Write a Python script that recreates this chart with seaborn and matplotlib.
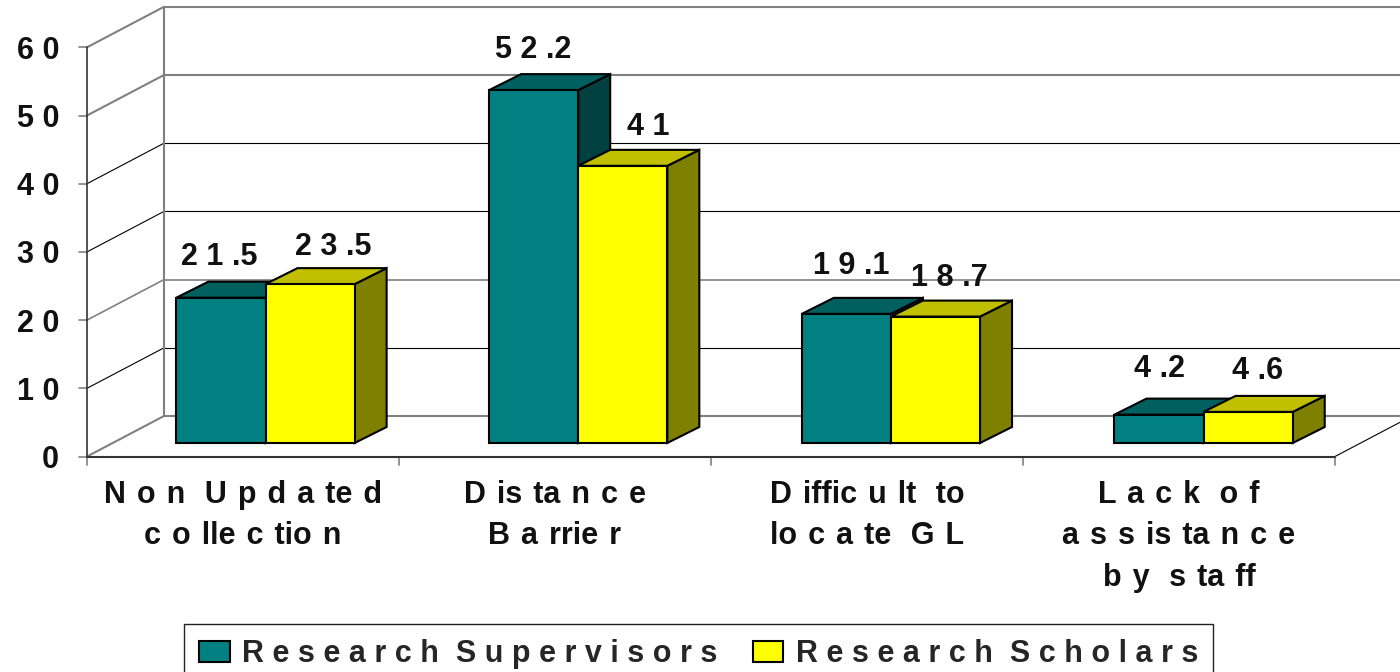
import pandas as pd
import seaborn as sns
import matplotlib.pyplot as plt
from matplotlib.patches import Patch, Polygon

categories = ["Non Updated\ncollection", "Distance\nBarrier", "Difficult to\nlocate GL", "Lack of\nassistance\nby staff"]
supervisors = [21.5, 52.2, 19.1, 4.2]
scholars = [23.5, 41, 18.7, 4.6]
series_names = ["Research Supervisors", "Research Scholars"]
y_ticks = [0, 10, 20, 30, 40, 50, 60]

FRONT = "#008080", "#FFFF00"
TOPS = "#006060", "#C0C000"
SIDES = "#004040", "#808000"
GREY = "#808080"
INK = "#111111"
# wall lines come out in two weights in the picture
wall_colors = [GREY, "black", GREY, "black", "black", GREY, GREY]
wall_widths = [1.5, 0.8, 1.2, 0.8, 0.8, 1.5, 1.5]

W, H = 1400, 672
X_UNIT = 312.7   # px per category
Y_UNIT = 6.76    # px per value unit
WALL_SCALE = 6.82 / Y_UNIT  # axis ticks are spaced a touch wider than the bars
X_ZERO = 265.5   # px of first group centre
Y_ZERO = 443     # px of bar base

# depth of the fake 3d, in data units
BAR_DX = 32 / X_UNIT
BAR_DY = 16 / Y_UNIT
AXIS_DROP = (Y_ZERO - 456.5) / Y_UNIT
WALL_RISE = (Y_ZERO - 416) / Y_UNIT
LEFT = (87 - X_ZERO) / X_UNIT
WALL_LEFT = (164 - X_ZERO) / X_UNIT
RIGHT = (1335 - X_ZERO) / X_UNIT
WALL_X = WALL_LEFT - LEFT


def spaced(s, tight="", sep=" "):
    # the old chart's wide tracking, no gap after a narrow letter
    out = ""
    for a, b in zip(s, s[1:] + " "):
        out += a
        if a != "\n" and b != "\n" and a not in tight and b != " ":
            out += sep
        elif a == " ":
            out += sep
    return out


sns.set_theme(style="white")
plt.rcParams['font.family'] = ['Liberation Sans', 'DejaVu Sans']
plt.rcParams['font.weight'] = 'bold'

fig = plt.figure(figsize=(W / 100, H / 100), dpi=100)
ax = fig.add_axes([0, 0, 1, 1])

df = pd.DataFrame({
    "category": categories * 2,
    "value": supervisors + scholars,
    "series": [series_names[0]] * 4 + [series_names[1]] * 4,
})
sns.barplot(data=df, x="category", y="value", hue="series", palette=list(FRONT), width=0.57, gap=0,
            saturation=1, edgecolor="black", linewidth=1.5, legend=False, zorder=3, ax=ax)

ax.set_xlim(-X_ZERO / X_UNIT, (W - X_ZERO) / X_UNIT)
ax.set_ylim((Y_ZERO - H) / Y_UNIT, Y_ZERO / Y_UNIT)
ax.axis("off")

# walls and floor
for v, c, lw in zip(y_ticks, wall_colors, wall_widths):
    yv = v * WALL_SCALE
    ax.plot([LEFT, WALL_LEFT], [yv + AXIS_DROP, yv + WALL_RISE], color=c, lw=lw, zorder=1)
    ax.plot([WALL_LEFT, ax.get_xlim()[1]], [yv + WALL_RISE, yv + WALL_RISE], color=c, lw=lw, zorder=1)
    ax.plot([LEFT - 8 / X_UNIT, LEFT], [yv + AXIS_DROP, yv + AXIS_DROP], color=GREY, lw=1.2, zorder=1)
    ax.text(LEFT - 28 / X_UNIT, yv + AXIS_DROP, spaced(str(v)), ha="right", va="center_baseline",
            fontsize=22, color=INK)
top_v = y_ticks[-1] * WALL_SCALE
ax.plot([WALL_LEFT, WALL_LEFT], [WALL_RISE, top_v + WALL_RISE], color=GREY, lw=1.5, zorder=1)
ax.plot([LEFT, LEFT], [AXIS_DROP, top_v + AXIS_DROP], color="#333333", lw=1.2, zorder=1)
ax.plot([LEFT, RIGHT], [AXIS_DROP, AXIS_DROP], color="#333333", lw=1.5, zorder=2)
ax.plot([RIGHT, RIGHT + WALL_X], [AXIS_DROP, WALL_RISE], color="black", lw=0.8, zorder=1)
for i in range(5):
    xt = LEFT + i * (RIGHT - LEFT) / 4
    ax.plot([xt, xt], [AXIS_DROP, AXIS_DROP - 8 / Y_UNIT], color=GREY, lw=1.2, zorder=1)

# category labels sit under the middle of each axis section
for i, label in enumerate(categories):
    xt = LEFT + (i + 0.5) * (RIGHT - LEFT) / 4
    ax.text(xt, (Y_ZERO - 480) / Y_UNIT, spaced(label, tight="ilfrt", sep=" \u200a"), ha="center", va="top",
            fontsize=22, linespacing=1.5, color=INK)

# fake 3d faces and value labels
nudges = [[-2, 0, 5, 0], [23, 25, 14, 9]]
rises = [33, 32, 40, 38], [29, 31, 31, 33]
for s, bars in enumerate(ax.containers):
    for b, bar in enumerate(bars):
        x, w, h = bar.get_x(), bar.get_width(), bar.get_height()
        top = Polygon([(x, h), (x + BAR_DX, h + BAR_DY), (x + w + BAR_DX, h + BAR_DY), (x + w, h)],
                      facecolor=TOPS[s], edgecolor="black", lw=1.5, zorder=2.5 + s)
        side = Polygon([(x + w, 0), (x + w + BAR_DX, BAR_DY), (x + w + BAR_DX, h + BAR_DY), (x + w, h)],
                       facecolor=SIDES[s], edgecolor="black", lw=1.5, zorder=2.5 + s)
        ax.add_patch(side)
        ax.add_patch(top)
        bar.set_zorder(3 + s)
        ax.text(x + w / 2 + nudges[s][b] / X_UNIT, h + rises[s][b] / Y_UNIT,
                spaced(f"{h:g}", tight="."),
                ha="center", va="baseline", fontsize=22, color=INK, zorder=6)

handles = [Patch(facecolor=FRONT[i], edgecolor="black", lw=1.5, label=spaced(series_names[i])) for i in range(2)]
ax.legend(handles=handles, ncols=2, loc="upper left", bbox_to_anchor=(184 / W, 1 - 624 / H),
          bbox_transform=fig.transFigure, borderaxespad=0, fancybox=False, framealpha=1,
          edgecolor="#222222", fontsize=22, handlelength=1.0, handleheight=0.7, handletextpad=0.4,
          columnspacing=1.16, borderpad=0.5)

fig.savefig("out.png", dpi=100)
